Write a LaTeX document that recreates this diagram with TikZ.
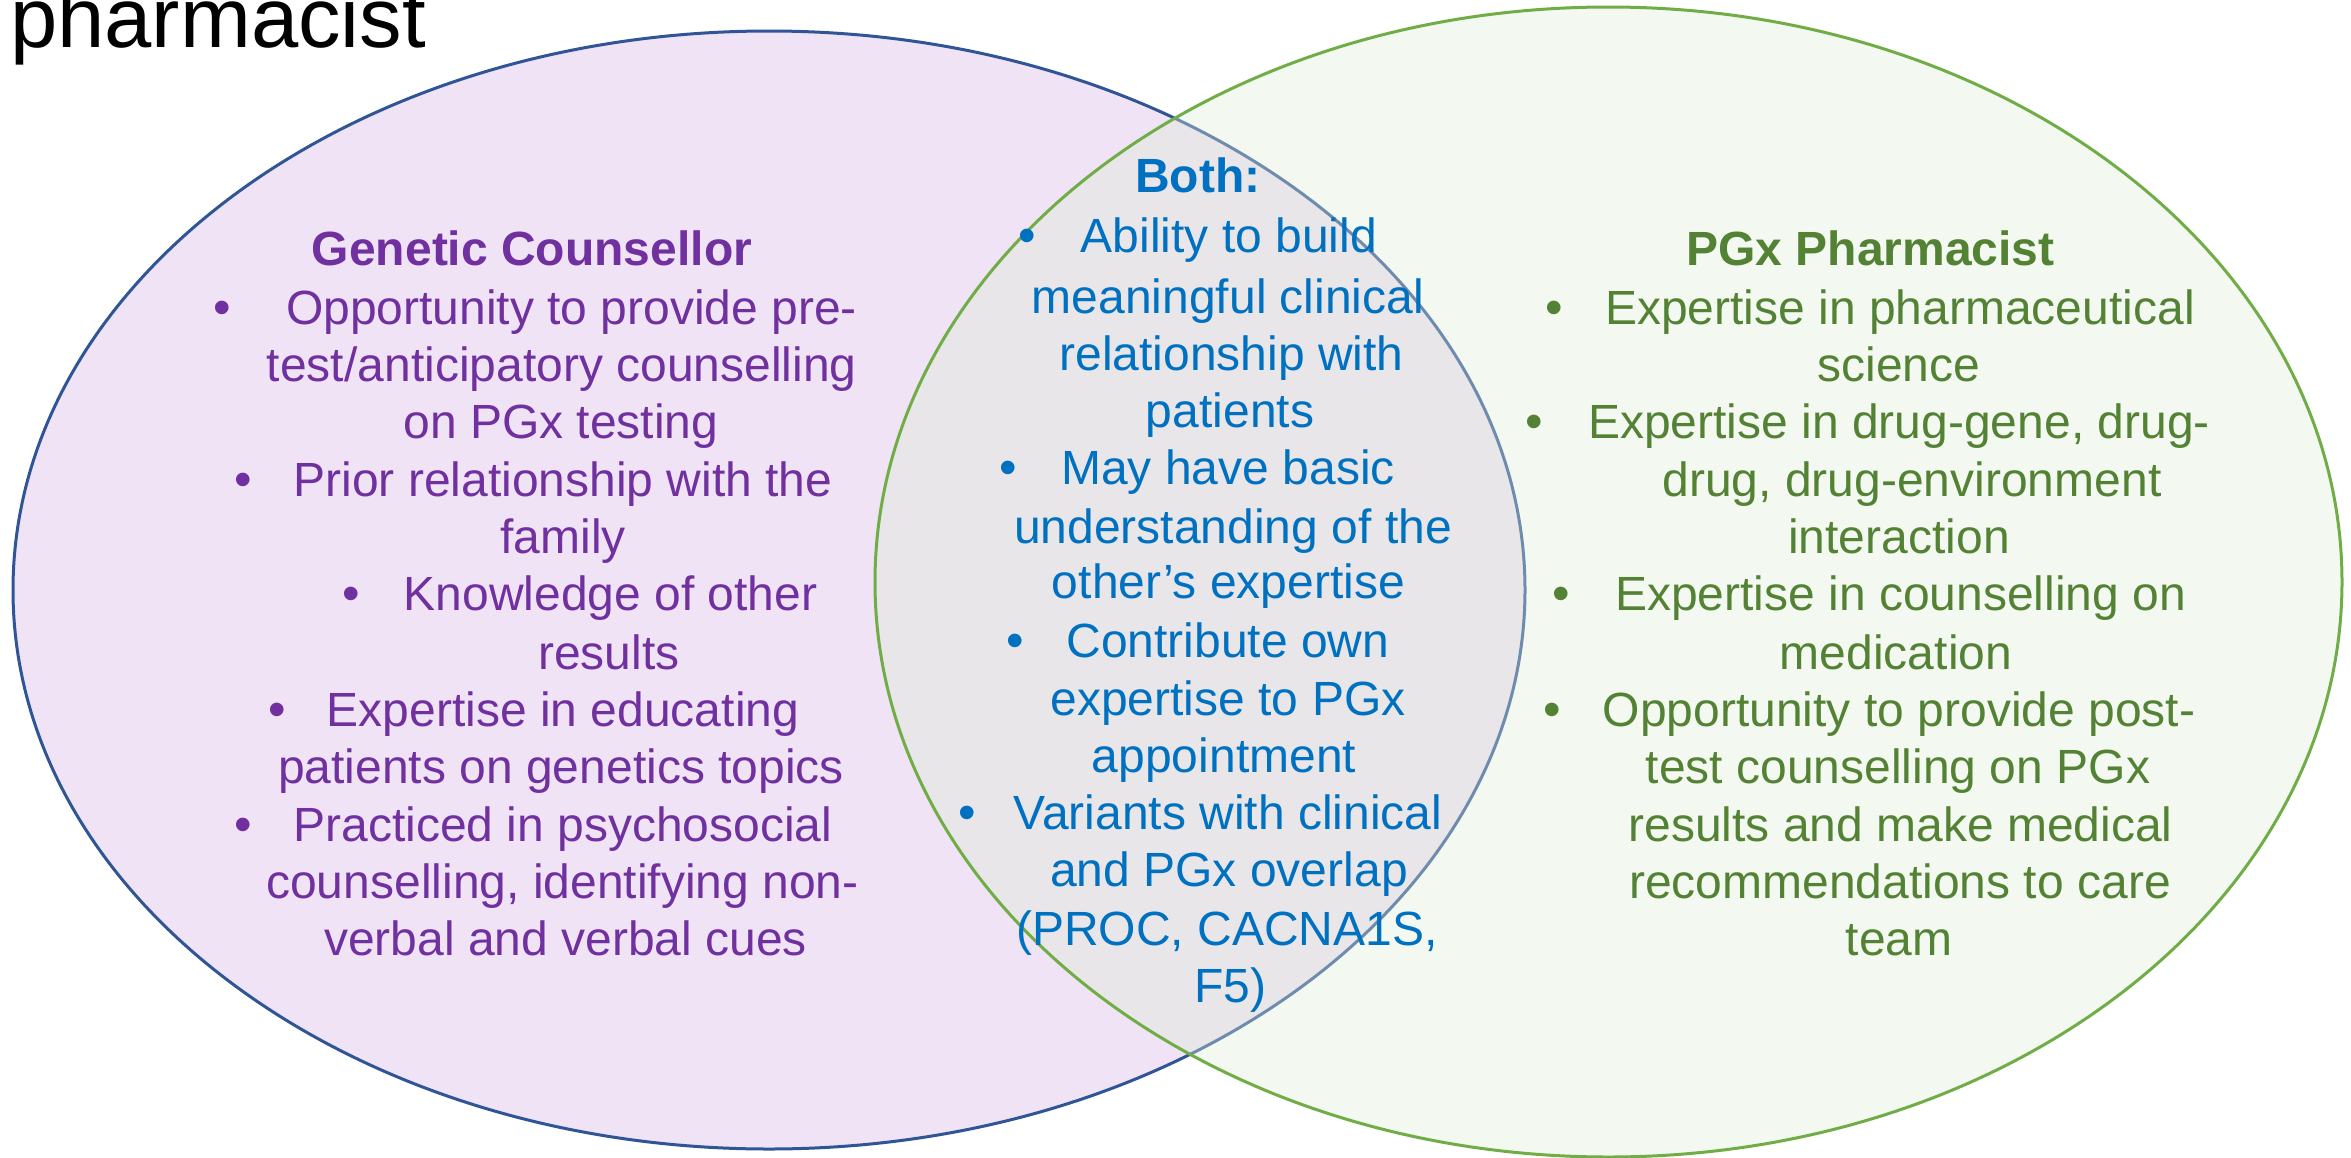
\documentclass[tikz,border=0pt]{standalone}
\usepackage{fontspec}
\setmainfont{Liberation Sans}
\definecolor{gcText}{HTML}{7030A0}
\definecolor{phText}{HTML}{548235}
\definecolor{bothText}{HTML}{0070C0}
\definecolor{gcLine}{HTML}{2F5597}
\definecolor{phLine}{HTML}{70AD47}
\definecolor{gcFill}{HTML}{EFE3F5}
\definecolor{phFill}{HTML}{DEECD6}
\begin{document}
\begin{tikzpicture}[x=1pt,y=-1pt,
  txt/.style={inner sep=0pt,anchor=base,font=\fontsize{48}{58}\selectfont},
  gc/.style={txt,text=gcText},
  ph/.style={txt,text=phText},
  both/.style={txt,text=bothText},
  head/.style={font=\fontsize{48}{58}\selectfont\bfseries},
  bul/.style={inner sep=0pt,anchor=base,font=\fontsize{50}{58}\selectfont}]
\useasboundingbox (0,0) rectangle (2351,1157);
% the two sets
\draw[line width=3pt,gcLine,fill=gcFill] (769,590) ellipse [x radius=756pt,y radius=559pt];
\path[fill=phFill,fill opacity=0.37] (1608.5,582) ellipse [x radius=733.5pt,y radius=575pt];
\draw[line width=3pt,phLine] (1608.5,582) ellipse [x radius=733.5pt,y radius=575pt];
% heading cut at the top edge
\node[inner sep=0pt,anchor=base west,font=\fontsize{85}{95}\selectfont] (title) at (10,47) {pharmacist};

% Genetic counsellor column
\node[gc,head] (gch) at (532,265) {Genetic Counsellor};
\node[bul,text=gcText] (gcb1) at (222,324) {•};
\node[gc] (gc1) at (571.5,324) {Opportunity to provide pre-};
\node[gc] (gc2) at (561.75,381) {test/anticipatory counselling};
\node[gc] (gc3) at (561,438) {on PGx testing};
\node[bul,text=gcText] (gcb2) at (243,496.5) {•};
\node[gc] (gc4) at (563,496.5) {Prior relationship with the};
\node[gc] (gc5) at (563,553.5) {family};
\node[bul,text=gcText] (gcb3) at (351,610.5) {•};
\node[gc] (gc6) at (610.5,610.5) {Knowledge of other};
\node[gc] (gc7) at (609,669) {results};
\node[bul,text=gcText] (gcb4) at (277.5,726) {•};
\node[gc] (gc8) at (563,726) {Expertise in educating};
\node[gc] (gc9) at (561,783) {patients on genetics topics};
\node[bul,text=gcText] (gcb5) at (243,841.5) {•};
\node[gc] (gc10) at (563,841.5) {Practiced in psychosocial};
\node[gc] (gc11) at (562.5,898.5) {counselling, identifying non-};
\node[gc] (gc12) at (565.5,955.5) {verbal and verbal cues};

% shared column
\node[both,head] (bh) at (1197.75,192) {Both:};
\node[bul,text=bothText] (bb1) at (1027.5,252) {•};
\node[both] (b1) at (1229,252) {Ability to build};
\node[both] (b2) at (1228,313.5) {meaningful clinical};
\node[both] (b3) at (1231.5,370.5) {relationship with};
\node[both] (b4) at (1230,427.5) {patients};
\node[bul,text=bothText] (bb2) at (1008,484.5) {•};
\node[both] (b5) at (1228,484.5) {May have basic};
\node[both] (b6) at (1233,543) {understanding of the};
\node[both] (b7) at (1228.5,598.5) {other’s expertise};
\node[bul,text=bothText] (bb3) at (1015.5,657) {•};
\node[both] (b8) at (1228,657) {Contribute own};
\node[both] (b9) at (1228,715.5) {expertise to PGx};
\node[both] (b10) at (1224,772.5) {appointment};
\node[bul,text=bothText] (bb4) at (967.5,829.5) {•};
\node[both] (b11) at (1228,829.5) {Variants with clinical};
\node[both] (b12) at (1229,886.5) {and PGx overlap};
\node[both] (b13) at (1227,945) {(PROC, CACNA1S,};
\node[both] (b14) at (1230,1002) {F5)};

% pharmacist column
\node[ph,head] (phh) at (1870.5,265.5) {PGx Pharmacist};
\node[bul,text=phText] (phb1) at (1554,324) {•};
\node[ph] (ph1) at (1900,324) {Expertise in pharmaceutical};
\node[ph] (ph2) at (1899,381) {science};
\node[bul,text=phText] (phb2) at (1534.5,438) {•};
\node[ph] (ph3) at (1899,438) {Expertise in drug-gene, drug-};
\node[ph] (ph4) at (1912,496.5) {drug, drug-environment};
\node[ph] (ph5) at (1899,553.5) {interaction};
\node[bul,text=phText] (phb3) at (1561.5,610.5) {•};
\node[ph] (ph6) at (1900.5,610.5) {Expertise in counselling on};
\node[ph] (ph7) at (1896,669) {medication};
\node[bul,text=phText] (phb4) at (1552.5,726) {•};
\node[ph] (ph8) at (1899,726) {Opportunity to provide post-};
\node[ph] (ph9) at (1898,783) {test counselling on PGx};
\node[ph] (ph10) at (1900.5,841.5) {results and make medical};
\node[ph] (ph11) at (1900,898.5) {recommendations to care};
\node[ph] (ph12) at (1899,955.5) {team};
\end{tikzpicture}
\end{document}
